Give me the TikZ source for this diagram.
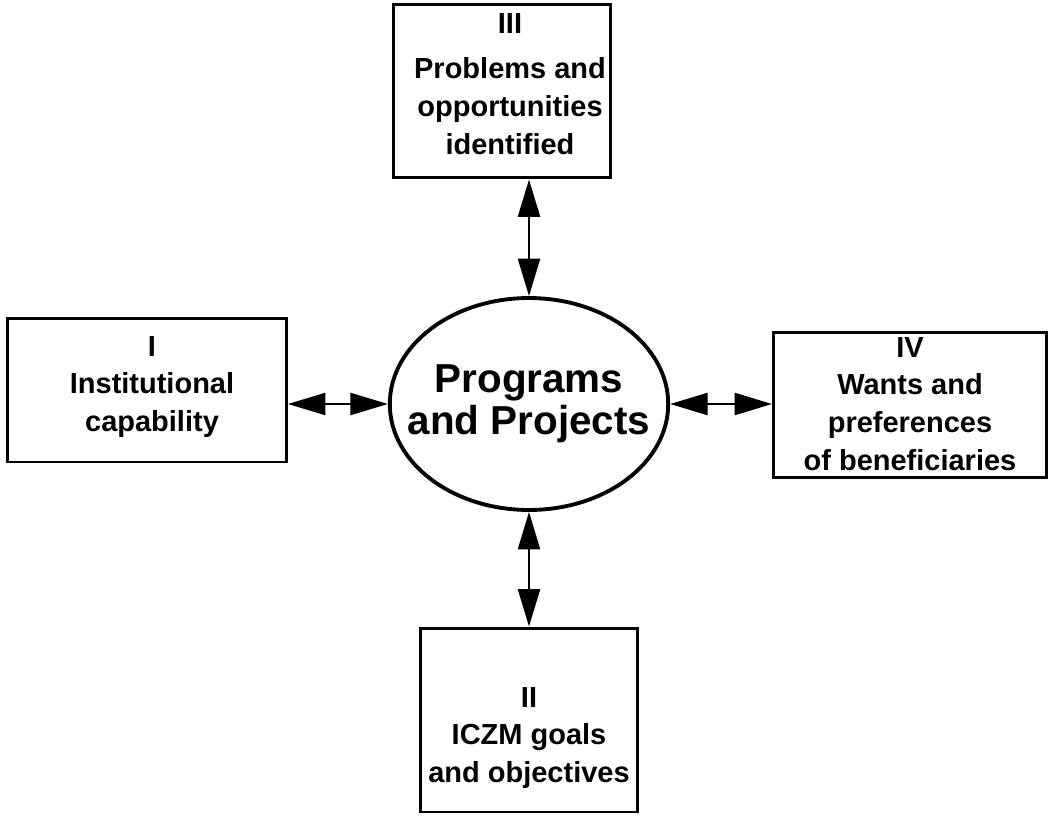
\documentclass[tikz,border=0pt]{standalone}
\usepackage{fontspec}
\setmainfont{Liberation Sans}
\usetikzlibrary{shapes.geometric,positioning,arrows.meta}

\tikzset{
  stage/.style={draw, line width=1.7pt, inner sep=0pt},
  stagetext/.style={align=center, inner sep=0pt,
    font=\bfseries\fontsize{16.5}{21.5}\selectfont},
  conn/.style={line width=1.4pt,
    {Triangle[length=0.75cm,width=0.44cm]}-{Triangle[length=0.75cm,width=0.44cm]}}
}

\begin{document}
\begin{tikzpicture}[x=0.02cm,y=-0.02cm]
  \useasboundingbox (0,0) rectangle (1051,815);
  % centre
  \node[draw, ellipse, line width=2.2pt, inner xsep=-13pt, inner ysep=0pt,
        minimum width=5.54cm, minimum height=4.24cm, align=center,
        font=\bfseries\fontsize{23}{24}\selectfont]
        (pp) at (529,404) {Programs\\and Projects};

  % the four stages
  \node[stage, minimum width=4.36cm, minimum height=3.48cm] (iii) at (502,91) {};
  \node[stagetext] (iiitext) at (510,84) {III\\[4pt]Problems and\\opportunities\\identified};

  \node[stage, minimum width=5.58cm, minimum height=2.88cm] (i) at (147,390) {};
  \node[stagetext] (itext) at (152,387) {I\\Institutional\\capability};

  \node[stage, minimum width=5.46cm, minimum height=2.9cm] (iv) at (910,405) {};
  \node[stagetext] (ivtext) at (910,404) {IV\\Wants and\\preferences\\of beneficiaries};

  \node[stage, minimum width=4.34cm, minimum height=3.68cm] (ii) at (529,720) {};
  \node[stagetext] (iitext) at (529,738) {II\\ICZM goals\\and objectives};

  \draw[conn] (pp.north) -- (pp.north |- iii.south);
  \draw[conn] (pp.south) -- (pp.south |- ii.north);
  \draw[conn] (pp.west) -- (pp.west -| i.east);
  \draw[conn] (pp.east) -- (pp.east -| iv.west);
\end{tikzpicture}
\end{document}
